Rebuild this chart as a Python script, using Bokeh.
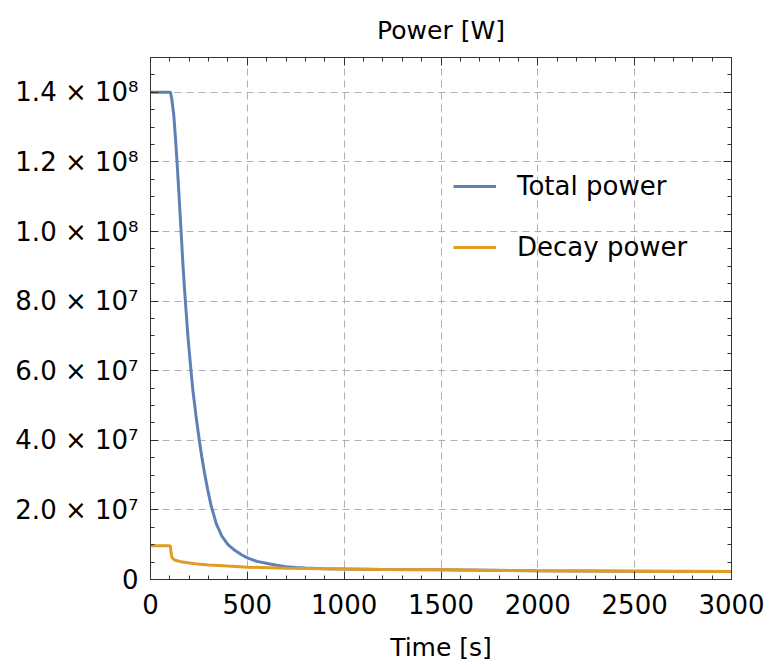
from bokeh.plotting import figure
from bokeh.models import Range1d, FixedTicker, LinearAxis, Legend, LegendItem
from bokeh.embed import file_html
from bokeh.resources import INLINE

# ---- data ----
t_total = [0, 100, 103, 110, 120, 130, 137, 146, 158, 168, 180, 193, 209, 219, 235,
           252, 265, 279, 295, 313, 340, 368, 400, 437, 470, 500, 550, 617, 660, 700,
           750, 800, 900, 1000, 1200, 1500, 2000, 2500, 3000]
p_total = [1.40e8, 1.40e8, 1.40e8, 1.38e8, 1.336e8, 1.26e8, 1.20e8, 1.116e8, 1.00e8,
           9.0e7, 8.0e7, 7.0e7, 6.0e7, 5.43e7, 4.7e7, 4.0e7, 3.52e7, 3.06e7, 2.59e7,
           2.12e7, 1.6e7, 1.25e7, 1.0e7, 8.3e6, 7.1e6, 6.2e6, 5.2e6, 4.45e6, 4.0e6,
           3.7e6, 3.45e6, 3.28e6, 3.1e6, 3.03e6, 2.9e6, 2.77e6, 2.52e6, 2.4e6, 2.3e6]

t_decay = [0, 100, 103, 106, 110, 115, 125, 150, 200, 231, 300, 400, 500, 700, 916,
           1000, 1200, 1500, 2000, 2500, 3000]
p_decay = [9.7e6, 9.7e6, 9.5e6, 7.8e6, 6.5e6, 6.0e6, 5.6e6, 5.2e6, 4.75e6, 4.5e6,
           4.2e6, 3.85e6, 3.55e6, 3.25e6, 3.07e6, 3.0e6, 2.89e6, 2.77e6, 2.52e6, 2.4e6,
           2.3e6]

x_major = [0, 500, 1000, 1500, 2000, 2500, 3000]
x_minor = [0, 100, 200, 300, 400, 500, 600, 700, 800, 900, 1000, 1100, 1200, 1300, 1400,
           1500, 1600, 1700, 1800, 1900, 2000, 2100, 2200, 2300, 2400, 2500, 2600, 2700,
           2800, 2900, 3000]
y_major = [0, 20000000, 40000000, 60000000, 80000000, 100000000, 120000000, 140000000]
y_minor = [i * 5000000 for i in range(0, 31)]
y_labels = ["0", "2.0 × 10⁷", "4.0 × 10⁷", "6.0 × 10⁷", "8.0 × 10⁷",
            "1.0 × 10⁸", "1.2 × 10⁸", "1.4 × 10⁸"]

FONT = "DejaVu Sans"
BLUE = "#5E81B5"
ORANGE = "#E19C24"
AXC = "#333333"

p = figure(width=774, height=665, output_backend="svg", toolbar_location=None,
           x_range=Range1d(0, 3000), y_range=Range1d(0, 1.5e8),
           min_border_left=150, min_border_right=43, min_border_top=57,
           min_border_bottom=86, title="Power [W]")
p.title.align = "center"
p.title.text_font = FONT
p.title.text_font_size = "25px"
p.title.text_font_style = "normal"
p.title.text_color = "black"
p.title.standoff = 25
p.outline_line_color = AXC

r1 = p.line(t_total, p_total, line_color=BLUE, line_width=3)
r2 = p.line(t_decay, p_decay, line_color=ORANGE, line_width=3)

xt = FixedTicker(ticks=x_major, minor_ticks=x_minor)
yt = FixedTicker(ticks=y_major, minor_ticks=y_minor)


def style(ax, show):
    ax.axis_line_color = AXC
    ax.major_tick_line_color = AXC
    ax.minor_tick_line_color = AXC
    ax.major_tick_in = 8
    ax.major_tick_out = 0
    ax.minor_tick_in = 4
    ax.minor_tick_out = 0
    ax.major_label_text_font = FONT
    ax.major_label_text_color = "black"
    ax.major_label_text_font_size = "26px" if show else "0px"


p.xaxis.ticker = xt
p.yaxis.ticker = yt
style(p.xaxis[0], True)
style(p.yaxis[0], True)
p.xaxis.major_label_standoff = 14
p.yaxis.major_label_standoff = 12
p.yaxis.major_label_overrides = {v: s for v, s in zip(y_major, y_labels)}
p.xaxis.axis_label = "Time [s]"
p.xaxis.axis_label_text_font = FONT
p.xaxis.axis_label_text_font_size = "25px"
p.xaxis.axis_label_text_font_style = "normal"
p.xaxis.axis_label_text_color = "black"
p.xaxis.axis_label_standoff = 16

top = LinearAxis(ticker=xt, major_label_overrides={v: "" for v in x_major})
right = LinearAxis(ticker=yt, major_label_overrides={v: "" for v in y_major})
style(top, False)
style(right, False)
p.add_layout(top, "above")
p.add_layout(right, "right")

p.xgrid.ticker = xt
p.ygrid.ticker = yt
for g in (p.xgrid[0], p.ygrid[0]):
    g.grid_line_color = "#b0b0b0"
    g.grid_line_dash = "7 5"
    g.grid_line_width = 1

legend = Legend(items=[LegendItem(label="Total power", renderers=[r1]),
                       LegendItem(label="Decay power", renderers=[r2])],
                location=(303, 317))
legend.padding = 0
legend.margin = 0
legend.spacing = 31
legend.glyph_width = 43
legend.glyph_height = 30
legend.label_height = 30
legend.label_standoff = 21
legend.label_text_font = FONT
legend.label_text_font_size = "26px"
legend.label_text_color = "black"
legend.border_line_alpha = 0
legend.background_fill_alpha = 0
p.add_layout(legend)

open("out.html", "w").write(file_html(p, INLINE))
